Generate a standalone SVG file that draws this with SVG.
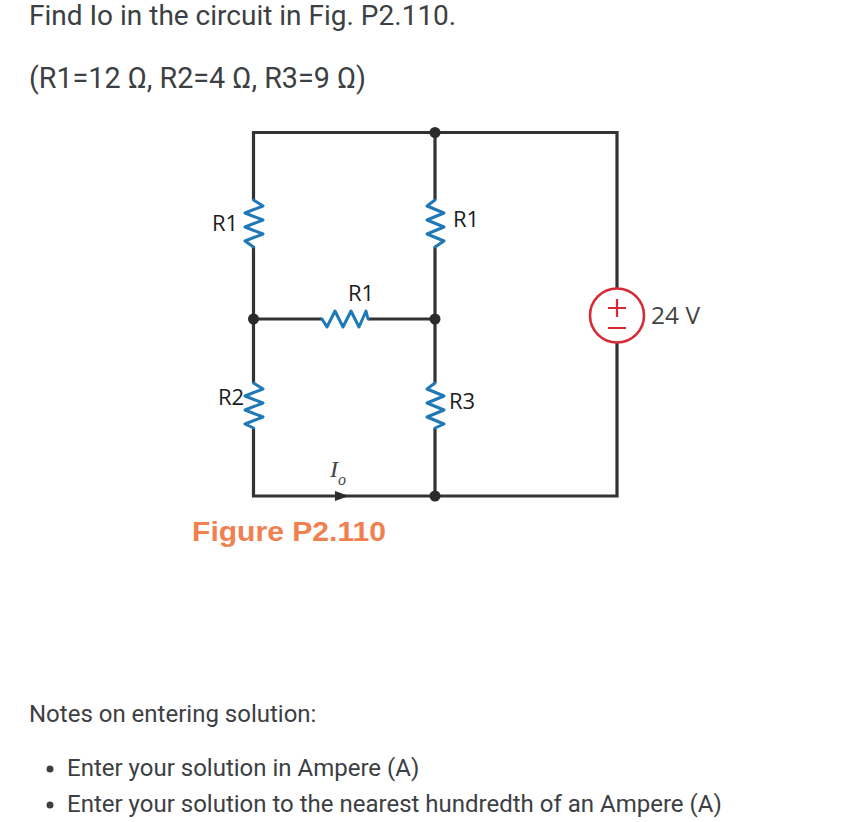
<svg xmlns="http://www.w3.org/2000/svg" width="867" height="822" viewBox="0 0 867 822">
<style>
.t{font-family:Roboto,"Liberation Sans",sans-serif;fill:#3c4043}
.b{font-size:24px}
.n{font-family:"Open Sans","Liberation Sans",sans-serif;fill:#1c1c1c;font-size:22px;font-weight:500}
.w{fill:none;stroke:#333;stroke-width:3.2}
.r{fill:none;stroke:#1f78b8;stroke-width:3;stroke-linejoin:round;stroke-linecap:round}
.d{fill:#2b2b2b}
</style>
<rect width="867" height="822" fill="#fff"/>
<text class="t" x="29" y="25" font-size="28">Find Io in the circuit in Fig. P2.110.</text>
<text class="t" x="29" y="88" font-size="28.7">(R1=12 Ω, R2=4 Ω, R3=9 Ω)</text>
<g id="connectors">
<path class="w" d="M253.500 200V132.500H617V288M617 343V496H253.500V428M253.500 247V383M253.500 319H322M368 319H435M435 132.500V200M435 247V383M435 428V496"/>
<path class="d" d="M335 491L349 496L335 501Z"/>
</g>
<g id="R1-left"><path class="r" d="M253.500 200L263 206L245 213L263 220L245 227L263 234L245 241L253.500 247"/><text class="n" x="212" y="231">R1</text></g>
<g id="R1-right"><path class="r" d="M435 200L427 206L444 213L427 220L444 227L427 234L444 241L435 247"/><text class="n" x="453" y="227">R1</text></g>
<g id="R1-mid"><path class="r" d="M322 319L327 327L335 311L343 327L351 311L359 327L366 311L368 319"/><text class="n" x="348" y="301">R1</text></g>
<g id="R2"><path class="r" d="M253.500 383L263 389L245 396L263 403L245 410L263 417L245 424L253.500 428"/><text class="n" x="218" y="405">R2</text></g>
<g id="R3"><path class="r" d="M435 383L427 389L444 396L427 403L444 410L427 417L444 424L435 428"/><text class="n" x="449" y="409">R3</text></g>
<g id="nodes">
<circle class="d" cx="435" cy="132.500" r="5.500"/><circle class="d" cx="253.500" cy="319" r="5.500"/><circle class="d" cx="435" cy="319" r="5.500"/><circle class="d" cx="435" cy="496" r="5.500"/>
</g>
<g id="source">
<circle cx="617" cy="315.500" r="27" fill="#fff" stroke="#d62b36" stroke-width="2.600"/>
<path d="M608 308H626M617 299V317M608 328H626" fill="none" stroke="#d62b36" stroke-width="2.200"/>
<text class="n" x="651" y="324" style="fill:#444;font-size:23px" textLength="49" lengthAdjust="spacingAndGlyphs">24 V</text>
</g>
<g id="current"><text font-family="Liberation Serif,serif" font-style="italic" font-size="24" fill="#444" x="330" y="477">I</text><text font-family="Liberation Serif,serif" font-style="italic" font-size="16" fill="#444" x="338" y="485">o</text></g>
<text x="192" y="541" font-family="Liberation Sans,sans-serif" font-size="27" font-weight="700" fill="#f08050" textLength="194" lengthAdjust="spacingAndGlyphs">Figure P2.110</text>
<text class="t b" x="29" y="722">Notes on entering solution:</text>
<circle cx="50" cy="769" r="3.500" fill="#3c4043"/><text class="t b" x="67" y="776">Enter your solution in Ampere (A)</text>
<circle cx="50" cy="805" r="3.500" fill="#3c4043"/><text class="t b" x="67" y="812">Enter your solution to the nearest hundredth of an Ampere (A)</text>
</svg>
